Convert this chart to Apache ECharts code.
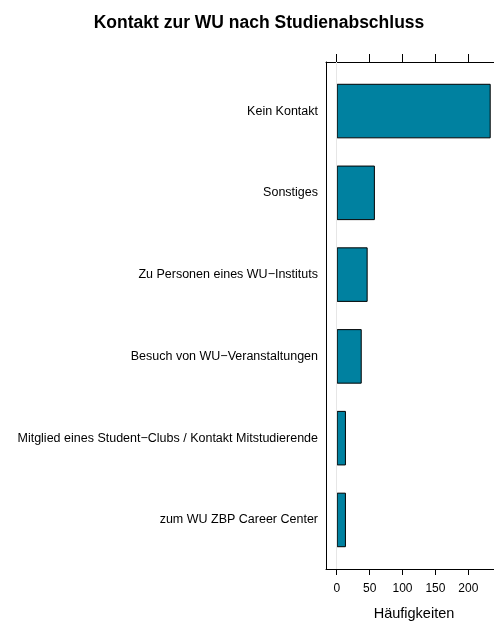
<!DOCTYPE html>
<html>
<head>
<meta charset="utf-8">
<script src="https://cdn.jsdelivr.net/npm/echarts@6/dist/echarts.min.js"></script>
<style>
html,body{margin:0;padding:0;background:#fff;}
#chart{width:494px;height:624px;}
</style>
</head>
<body>
<div id="chart"></div>
<script>
// Data (top to bottom)
var categories = [
  "Kein Kontakt",
  "Sonstiges",
  "Zu Personen eines WU\u2212Instituts",
  "Besuch von WU\u2212Veranstaltungen",
  "Mitglied eines Student\u2212Clubs / Kontakt Mitstudierende",
  "zum WU ZBP Career Center"
];
var counts = [234, 58, 47, 38, 14, 14];
var tickValues = [0, 50, 100, 150, 200];
var chartTitle = "Kontakt zur WU nach Studienabschluss";
var xTitle = "H\u00e4ufigkeiten";

var FONT = "Liberation Sans, Arial, Helvetica, sans-serif";
var boxLeft = 326, boxTop = 62, boxBottom = 569, boxWidth = 300;
var unitPx = (boxBottom - boxTop) / 6.2;
var xMin = -16.3, xMax = xMin + boxWidth / 0.658;

var chart = echarts.init(document.getElementById('chart'), null, {renderer: 'canvas'});
chart.setOption({
  animation: false,
  backgroundColor: '#ffffff',
  title: [
    {
      text: chartTitle,
      left: 254, top: 9, textAlign: 'center',
      textStyle: {fontFamily: FONT, fontSize: 17.5, fontWeight: 'bold', color: '#000'}
    },
    {
      text: xTitle,
      left: 414, top: 606, textAlign: 'center', padding: 0,
      textStyle: {fontFamily: FONT, fontSize: 14.5, fontWeight: 'normal', color: '#000'}
    }
  ],
  grid: [
    {left: boxLeft, top: boxTop, width: boxWidth, height: boxBottom - boxTop, containLabel: false, outerBoundsMode: 'none'},
    {left: boxLeft, top: boxTop + 0.1 * unitPx, width: boxWidth, height: 6 * unitPx, containLabel: false, outerBoundsMode: 'none'}
  ],
  xAxis: [
    {
      gridIndex: 0, type: 'value', position: 'bottom', min: xMin, max: xMax,
      axisLine: {show: true, onZero: false, lineStyle: {color: '#000', width: 1}},
      axisTick: {show: true, length: 6, customValues: tickValues, lineStyle: {color: '#000'}},
      axisLabel: {show: true, customValues: tickValues, margin: 14, fontFamily: FONT, fontSize: 12, color: '#000'},
      splitLine: {show: false}
    },
    {
      gridIndex: 0, type: 'value', position: 'top', min: xMin, max: xMax,
      axisLine: {show: true, onZero: false, lineStyle: {color: '#000', width: 1}},
      axisTick: {show: true, length: 8, customValues: tickValues, lineStyle: {color: '#000'}},
      axisLabel: {show: false},
      splitLine: {show: false}
    },
    {
      gridIndex: 1, type: 'value', min: xMin, max: xMax, show: false
    }
  ],
  yAxis: [
    {
      gridIndex: 0, type: 'value', min: 0, max: 1,
      axisLine: {show: true, onZero: false, lineStyle: {color: '#000', width: 1}},
      axisTick: {show: false}, axisLabel: {show: false}, splitLine: {show: false}
    },
    {
      gridIndex: 1, type: 'category', data: categories, inverse: true,
      axisLine: {show: false}, axisTick: {show: false},
      axisLabel: {margin: 8, fontFamily: FONT, fontSize: 12.5, color: '#000'},
      splitLine: {show: false}
    }
  ],
  series: [
    {
      type: 'line', xAxisIndex: 0, yAxisIndex: 0, data: [], silent: true,
      markLine: {
        silent: true, symbol: 'none', label: {show: false},
        lineStyle: {color: '#e6e6e6', width: 1, type: 'solid'},
        data: [{xAxis: 0}]
      }
    },
    {
      type: 'bar', xAxisIndex: 2, yAxisIndex: 1, data: counts,
      barWidth: '66.7%',
      itemStyle: {color: '#0081a0', borderColor: '#000', borderWidth: 1}
    }
  ]
});
</script>
</body>
</html>
